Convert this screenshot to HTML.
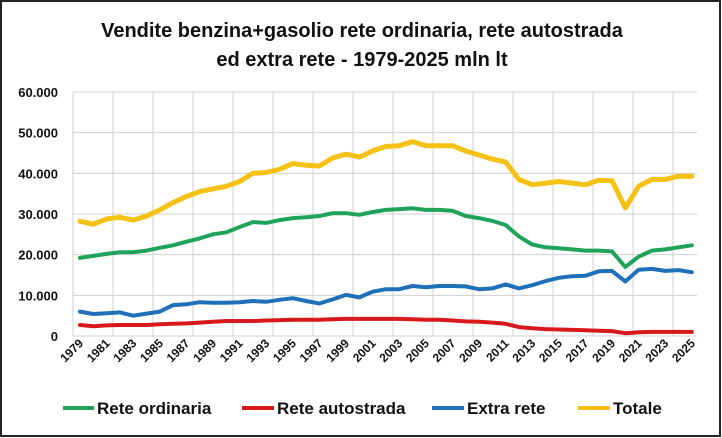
<!DOCTYPE html>
<html><head><meta charset="utf-8"><style>
html,body{margin:0;padding:0;background:#fff}
svg{display:block;font-family:"Liberation Sans",sans-serif}
</style></head><body>
<svg id="s" width="722" height="438" viewBox="0 0 722 438" xmlns="http://www.w3.org/2000/svg">
<rect x="1" y="1" width="719" height="435" fill="#fff" stroke="#222" stroke-width="2"/>
<text x="362" y="37" text-anchor="middle" font-size="20" font-weight="bold" fill="#111">Vendite benzina+gasolio rete ordinaria, rete autostrada</text>
<text x="362" y="66" text-anchor="middle" font-size="20" font-weight="bold" fill="#111">ed extra rete - 1979-2025 mln lt</text>
<g id="grid" stroke="#d0d0d0" stroke-width="1" fill="none"></g>
<g id="ylab" font-size="13" font-weight="bold" fill="#111" text-anchor="end"></g>
<g id="xlab" font-size="12" font-weight="bold" fill="#111" text-anchor="end"></g>
<g id="lines" fill="none" stroke-width="4" stroke-linejoin="round" stroke-linecap="round"></g>
<g font-size="17" font-weight="bold" fill="#111">
<line x1="63" y1="408" x2="94" y2="408" stroke="#1fa35a" stroke-width="4"/><text x="97" y="414">Rete ordinaria</text>
<line x1="242" y1="408" x2="274" y2="408" stroke="#d7191c" stroke-width="4"/><text x="277" y="414">Rete autostrada</text>
<line x1="432" y1="408" x2="464" y2="408" stroke="#1f70b8" stroke-width="4"/><text x="467" y="414">Extra rete</text>
<line x1="578" y1="408" x2="610" y2="408" stroke="#f5c115" stroke-width="4"/><text x="613" y="414">Totale</text>
</g>
</svg>
<script>
var NS="http://www.w3.org/2000/svg";
function el(p,t,a,txt){var e=document.createElementNS(NS,t);for(var k in a)e.setAttribute(k,a[k]);if(txt!==undefined)e.textContent=txt;document.getElementById(p).appendChild(e);}
var L=73,R=697,T=92,B=336;
function X(i){return 80+i*13.3;}
function Y(v){return B-v*(B-T)/60;}
for(var j=0;j<=6;j++){var y=T+j*(B-T)/6;el("grid","line",{x1:L,y1:y,x2:R,y2:y});
 el("ylab","text",{x:58,y:y+5},j==6?"0":((6-j)*10)+".000");}
for(var x=L;x<=R+1;x+=40){el("grid","line",{x1:x,y1:T,x2:x,y2:B});}
for(var i=0;i<=46;i+=2){var xx=X(i)+4,yy=344;el("xlab","text",{x:xx,y:yy,transform:"rotate(-45 "+xx+" "+yy+")"},String(1979+i));}
var tot=[28.2,27.5,28.8,29.2,28.5,29.5,31,32.8,34.3,35.5,36.2,36.8,38,40,40.2,41,42.4,42,41.8,43.8,44.7,44,45.5,46.6,46.8,47.8,46.8,46.8,46.8,45.5,44.5,43.5,42.8,38.5,37.2,37.6,38,37.6,37.2,38.3,38.2,31.5,36.8,38.5,38.5,39.3,39.3];
var gr=[19.2,19.7,20.2,20.6,20.6,21,21.7,22.3,23.2,24,25,25.5,26.8,28,27.8,28.5,29,29.2,29.5,30.2,30.2,29.8,30.5,31,31.2,31.4,31,31,30.8,29.5,29,28.3,27.3,24.5,22.5,21.8,21.6,21.3,21,21,20.8,17,19.5,21,21.3,21.8,22.3];
var bl=[6,5.4,5.6,5.8,5,5.5,6,7.6,7.8,8.3,8.2,8.2,8.3,8.6,8.4,8.9,9.3,8.6,8,9,10.1,9.5,10.9,11.5,11.5,12.3,12,12.3,12.3,12.2,11.5,11.7,12.7,11.7,12.5,13.5,14.3,14.7,14.8,15.9,16,13.4,16.3,16.5,16,16.2,15.7];
var rd=[2.7,2.4,2.6,2.7,2.7,2.7,2.9,3,3.1,3.3,3.5,3.7,3.7,3.7,3.8,3.9,4,4,4,4.1,4.2,4.2,4.2,4.2,4.2,4.1,4,4,3.8,3.6,3.5,3.3,3,2.2,1.9,1.7,1.6,1.5,1.4,1.3,1.2,0.7,0.9,1,1,1,1];
function pl(d,c,w){el("lines","polyline",{points:d.map(function(v,i){return X(i).toFixed(1)+","+Y(v).toFixed(1)}).join(" "),stroke:c,"stroke-width":w});}
pl(tot,"#f5c115",5);pl(gr,"#1fa35a",4);pl(bl,"#1f70b8",4);pl(rd,"#d7191c",4);
</script>
</body></html>
